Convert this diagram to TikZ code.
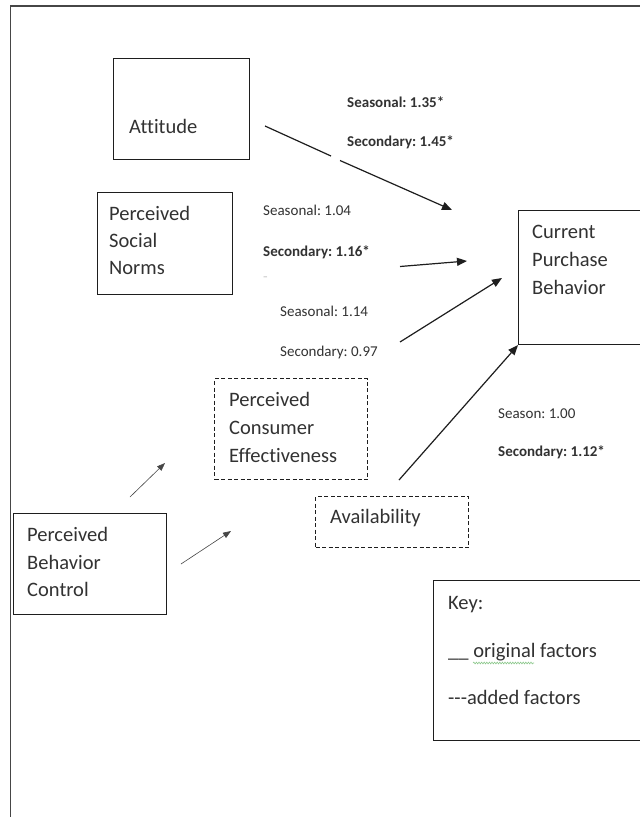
\documentclass[tikz,border=0pt]{standalone}
\usepackage{fontspec}
\setmainfont{Carlito}[Ligatures={NoCommon}]
\usetikzlibrary{arrows.meta,decorations.pathmorphing}
\definecolor{txt}{RGB}{50,50,50}
\definecolor{boxc}{RGB}{30,30,30}
\definecolor{framec}{RGB}{70,70,70}
\definecolor{squig}{RGB}{140,200,140}
\frenchspacing
\begin{document}
\begin{tikzpicture}[x=1pt,y=-1pt,
  solidbox/.style={draw=boxc,line width=1.1pt,inner sep=0pt,anchor=north west},
  dashbox/.style={draw=boxc,line width=1.1pt,inner sep=0pt,anchor=north west,dash pattern=on 4pt off 2.5pt},
  boxtxt/.style={anchor=base west,inner sep=0pt,text=txt,font=\fontsize{20.5}{27}\selectfont},
  lab/.style={anchor=base west,inner sep=0pt,text=txt,font=\fontsize{15}{18}\selectfont},
  blab/.style={lab,font=\fontsize{15}{18}\selectfont\bfseries},
  arr/.style={draw=boxc,line width=1.2pt,-{Triangle[length=10pt,width=8pt]}},
  thinarr/.style={draw=framec,line width=0.6pt,-{Triangle[length=8pt,width=6pt]}}]
\useasboundingbox (0,0) rectangle (640,817);
\clip (0,0) rectangle (640,817);
\fill[white] (0,0) rectangle (640,817);
% outer frame
\draw[framec,line width=1.4pt] (10.5,830) -- (10.5,6) -- (660,6);

% boxes
\node[solidbox,minimum width=136pt,minimum height=101pt] (att) at (113,58) {};
\node[solidbox,minimum width=135pt,minimum height=102pt] (psn) at (97,192) {};
\node[solidbox,minimum width=150pt,minimum height=134pt] (cpb) at (518,210) {};
\node[dashbox,minimum width=153pt,minimum height=101pt] (pce) at (214,378) {};
\node[dashbox,minimum width=153pt,minimum height=51pt] (avl) at (315,496) {};
\node[solidbox,minimum width=153pt,minimum height=101pt] (pbc) at (12.5,513) {};
\node[solidbox,minimum width=240pt,minimum height=160pt] (key) at (433,580) {};

% box texts
\node[boxtxt] (attT) at (129,133.5) {Attitude};
\node[boxtxt] (psn1) at (109,220.5) {Perceived};
\node[boxtxt] (psn2) at (109,247.5) {Social};
\node[boxtxt] (psn3) at (109,274.5) {Norms};
\node[boxtxt] (cpb1) at (532,238.5) {Current};
\node[boxtxt] (cpb2) at (532,266.5) {Purchase};
\node[boxtxt] (cpb3) at (532,294.5) {Behavior};
\node[boxtxt] (pce1) at (229,406.5) {Perceived};
\node[boxtxt] (pce2) at (229,434.5) {Consumer};
\node[boxtxt] (pce3) at (229,462.5) {Effectiveness};
\node[boxtxt] (avlT) at (330,523.5) {Availability};
\node[boxtxt] (pbc1) at (27,541.5) {Perceived};
\node[boxtxt] (pbc2) at (27,569) {Behavior};
\node[boxtxt] (pbc3) at (27,596.5) {Control};
\node[boxtxt] (key1) at (448,609.5) {Key:};
\node[boxtxt] (key2) at (448,657) {\_\_ original factors};
\node[boxtxt] (key3) at (448,704) {-{}-{}-added factors};
\draw[squig,line width=0.6pt,decorate,decoration={snake,amplitude=0.9pt,segment length=2.6pt}] (473,663) -- (534,663);

% labels
\node[blab] (l1) at (347,107.5) {Seasonal: 1.35*};
\node[blab] (l2) at (347,146) {Secondary: 1.45*};
\node[lab] (l3) at (263,215) {Seasonal: 1.04};
\node[blab] (l4) at (263,256) {Secondary: 1.16*};
\node[lab,text=gray!40] (l5) at (263,281) {-};
\node[lab] (l6) at (280,316) {Seasonal: 1.14};
\node[lab] (l7) at (280,356) {Secondary: 0.97};
\node[lab] (l8) at (498,418) {Season: 1.00};
\node[blab] (l9) at (498,456) {Secondary: 1.12*};

% connectors
\coordinate (a0) at (265,126);
\coordinate (a1) at (331,156);
\coordinate (a2) at (340,160.5);
\coordinate (a3) at (452,210);
\draw[boxc,line width=1.2pt] (a0) -- (a1);
\draw[arr] (a2) -- (a3);
\coordinate (b0) at (400,266.5);
\coordinate (b1) at (467,261);
\draw[arr] (b0) -- (b1);
\coordinate (c0) at (400,342);
\coordinate (c1) at (502,278);
\draw[arr] (c0) -- (c1);
\coordinate (d0) at (399,480);
\draw[arr] (d0) -- (cpb.south west);
\coordinate (e0) at (130,497);
\coordinate (e1) at (165,463);
\draw[thinarr] (e0) -- (e1);
\coordinate (f0) at (181,564);
\coordinate (f1) at (231,531);
\draw[thinarr] (f0) -- (f1);
\end{tikzpicture}
\end{document}
